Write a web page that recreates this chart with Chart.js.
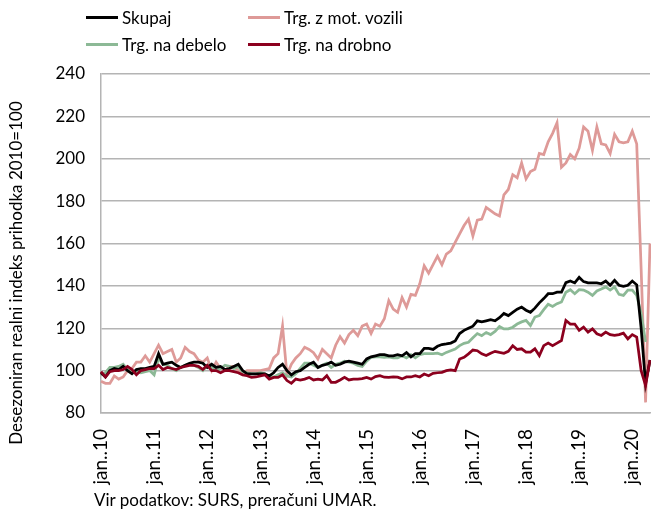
<!DOCTYPE html>
<html>
<head>
<meta charset="utf-8">
<script src="https://cdn.jsdelivr.net/npm/chart.js@4"></script>
<style>
  body { margin: 0; background: #fff; font-family: Lato, sans-serif; }
  #wrap { position: relative; width: 651px; height: 511px; }
  #legend {
    position: absolute; left: 86px; top: 7px;
    display: grid; grid-template-columns: 162px auto; row-gap: 7px;
    font-size: 17px; color: #000;
  }
  .item { display: flex; align-items: center; height: 20px; white-space: nowrap; }
  .swatch { display: inline-block; width: 32px; height: 3px; margin-right: 4px; }
  #source { position: absolute; left: 94px; top: 489px; font-size: 17px; color: #000; }
</style>
</head>
<body>
<div id="wrap">
  <canvas id="prihodekChart" width="651" height="511"></canvas>
  <div id="legend"></div>
  <div id="source">Vir podatkov: SURS, preračuni UMAR.</div>
</div>
<script>
// mesecni podatki jan. 2010 - maj 2020
const years = ["10", "11", "12", "13", "14", "15", "16", "17", "18", "19", "20"];
const monthNames = ["jan.", "feb.", "mar.", "apr.", "maj.", "jun.", "jul.", "avg.", "sep.", "okt.", "nov.", "dec."];
const lastMonths = 5; // 2020: jan - maj

const skupaj = [
  99, 97, 100, 101, 100.5, 102, 100, 98.5, 100.5, 101, 101, 101.5,
  102, 108, 103, 103.5, 104, 102.5, 101.5, 102.5, 103.5, 104, 104, 103.5,
  101.5, 103, 101.5, 102, 100.5, 101, 102, 103, 100, 98.5, 98.5, 98.5,
  98.5, 98.5, 97.5, 99, 101.5, 103, 100, 98, 99.5, 100, 101.5, 103,
  104, 101.5, 102.5, 103, 104, 102.5, 103, 104, 104.5, 104, 103.5, 103,
  105.5, 106.5, 107, 107.5, 107.5, 107, 107, 107.5, 107, 108.5, 106.5, 108,
  108, 110.5, 110.5, 110, 111.5, 112.3, 112.6, 113, 114, 117.5, 119, 120,
  121, 123.5, 123, 123.5, 124, 123.5, 125, 127, 126, 127.5, 129, 130,
  128.5, 127.5, 129.5, 132, 134, 136.3, 136.3, 137, 137, 141.5, 142.3, 141.4,
  144, 142, 141.4, 141.4, 141.4, 141, 142.3, 140.3, 142.6, 140.3, 139.8, 140.3,
  142.3, 140.5, 120, 94, 105
];

const naDebelo = [
  98, 99, 101.5, 101.5, 102, 103, 100.5, 99, 99.5, 99, 99.5, 100,
  98, 106, 103, 102.5, 101, 100, 101.5, 102.5, 103, 102.5, 101.5, 100,
  102.5, 101.5, 100, 101, 102.5, 102, 101, 102, 99.5, 99, 98.5, 98.5,
  99, 98.5, 97, 97, 98, 99, 97.5, 97, 98.5, 101, 103.5, 103.5,
  102.5, 101.5, 102.5, 103.5, 101.5, 103, 103.5, 104.4, 104, 103.5, 102.5, 102,
  104.5, 106.3, 106.5, 106.5, 106.3, 106.5, 106, 106, 107, 106, 107.5, 106,
  107.5, 108, 108, 108, 108.2, 107.5, 108.6, 109.4, 110.2, 111.8, 112.9, 113.4,
  115.5, 117.5, 116.5, 118, 117, 118.5, 120.8, 119.7, 119.7, 120.5, 122, 123,
  123.7, 121.3, 125.3, 126, 128.8, 131.3, 130.3, 131.6, 132.4, 137, 138.2, 136.3,
  138.2, 138, 137, 135.5, 137.6, 138.5, 139.5, 138, 139.5, 136, 135.5, 138,
  138, 135.5, 127, 113.5, null
];

const motVozila = [
  95, 94, 94, 97.5, 96, 97, 100, 101, 104, 104, 107, 104,
  108, 112, 108, 109, 110, 104, 106, 111, 109, 108, 105, 104,
  106, 100, 104, 101, 100, 102, 102, 100, 99, 100, 100, 100,
  100, 100.5, 101, 106, 108, 121, 98, 103, 106, 108, 111, 110,
  108.5, 105.5, 110, 108, 106, 112, 116, 113, 117, 119, 116.5, 121,
  122, 117.5, 122, 121, 124.5, 133, 129, 127.5, 134.5, 130, 136, 135.5,
  141, 149.5, 146, 150, 154, 150, 155, 156.5, 160.5, 164.5, 168.5, 171.5,
  163.5, 171, 171.5, 177, 175.5, 174, 173, 183, 185.5, 192.5, 191, 198,
  190.5, 194, 195, 202.5, 202, 208, 212, 217, 196, 198, 202, 200,
  205, 215, 213, 204, 215, 207, 206.5, 202.5, 211.5, 208, 207.5, 208,
  213, 207, 148, 85, 160
];

const naDrobno = [
  99.5, 97, 99.5, 100, 100, 100.5, 102, 100.5, 98, 100, 100.5, 101,
  101, 102.5, 100.5, 101.5, 101, 100.5, 101.5, 102, 102.5, 102.5, 102, 100.5,
  102.5, 100, 100, 99, 100, 100, 99.5, 99, 98, 97.6, 96.8, 97,
  97.5, 98, 96, 96.8, 96.8, 98, 95.3, 94, 96, 95.5, 96, 96.8,
  95.6, 96, 95.6, 97.6, 94.5, 94.5, 95.6, 96.8, 95.6, 96, 96, 96.2,
  96.8, 96, 97.2, 97.6, 96.9, 96.8, 97, 96.9, 96.1, 97, 97, 97.6,
  97, 98.4, 97.6, 98.7, 99, 99.2, 100, 100.3, 100, 105.5, 106.3, 107.9,
  109.7, 109.4, 107.9, 107.1, 108.2, 109.1, 108.6, 108.2, 109.1, 111.8, 110, 110.3,
  108.7, 108.7, 110.3, 107.1, 111.8, 113, 111.8, 113, 114.2, 123.7, 122, 122,
  119, 120.5, 118.2, 119.7, 117.4, 116.6, 118.2, 117, 116.6, 117, 117.7, 115,
  117, 115.8, 100, 93, 105
];

const labels = [];
years.forEach(function (y, yi) {
  const n = yi === years.length - 1 ? lastMonths : 12;
  for (let m = 0; m < n; m++) labels.push(monthNames[m] + "." + y);
});

const yTitle = "Desezoniran realni indeks prihodka 2010=100";

// naslov y osi (ni centriran na obmocje grafa)
const yTitlePlugin = {
  id: "yTitle",
  afterDraw: function (chart) {
    const ctx = chart.ctx;
    ctx.save();
    ctx.translate(17, 273);
    ctx.rotate(-Math.PI / 2);
    ctx.font = "17px Lato";
    ctx.fillStyle = "#000";
    ctx.textAlign = "center";
    ctx.textBaseline = "middle";
    ctx.fillText(yTitle, 0, 0);
    ctx.restore();
  },
};

const ctx = document.getElementById("prihodekChart").getContext("2d");
const chart = new Chart(ctx, {
  type: "line",
  data: {
    labels: labels,
    datasets: [
      { label: "Skupaj", data: skupaj, borderColor: "#000000", order: 1 },
      { label: "Trg. na debelo", data: naDebelo, borderColor: "#8CB996", order: 2 },
      { label: "Trg. z mot. vozili", data: motVozila, borderColor: "#DE9A98", order: 3 },
      { label: "Trg. na drobno", data: naDrobno, borderColor: "#8C001E", order: 0 },
    ],
  },
  options: {
    responsive: false,
    animation: false,
    devicePixelRatio: 1,
    layout: { padding: { top: 74, right: 1, left: 0, bottom: 0 } },
    elements: {
      point: { radius: 0 },
      line: { borderWidth: 2.75, tension: 0, fill: false },
    },
    plugins: {
      legend: { display: false },
      tooltip: { enabled: false },
    },
    scales: {
      x: {
        grid: { display: false },
        border: { display: true, color: "#b4b4b4", width: 1.5 },
        afterFit: function (scale) {
          scale.height = 98;
          scale.paddingLeft = 0;
          scale.paddingRight = 0;
        },
        ticks: {
          autoSkip: false,
          minRotation: 90,
          maxRotation: 90,
          padding: 8,
          color: "#000",
          font: { family: "Lato", size: 19 },
          callback: function (value) {
            const lab = this.getLabelForValue(value);
            return lab.indexOf("jan") === 0 ? lab : "";
          },
        },
      },
      y: {
        min: 80,
        max: 240,
        grid: { color: "#b4b4b4", lineWidth: 1.5, drawTicks: false },
        border: { display: true, color: "#b4b4b4", width: 1.5 },
        afterFit: function (scale) { scale.width = 101; },
        ticks: {
          stepSize: 20,
          padding: 16,
          color: "#000",
          font: { family: "Lato", size: 17 },
        },
      },
    },
  },
  plugins: [yTitlePlugin],
});

// legenda v dveh stolpcih
const legendOrder = [0, 2, 1, 3];
const legend = document.getElementById("legend");
legendOrder.forEach(function (i) {
  const ds = chart.data.datasets[i];
  const item = document.createElement("div");
  item.className = "item";
  const sw = document.createElement("span");
  sw.className = "swatch";
  sw.style.background = ds.borderColor;
  item.appendChild(sw);
  item.appendChild(document.createTextNode(ds.label));
  legend.appendChild(item);
});
</script>
</body>
</html>
